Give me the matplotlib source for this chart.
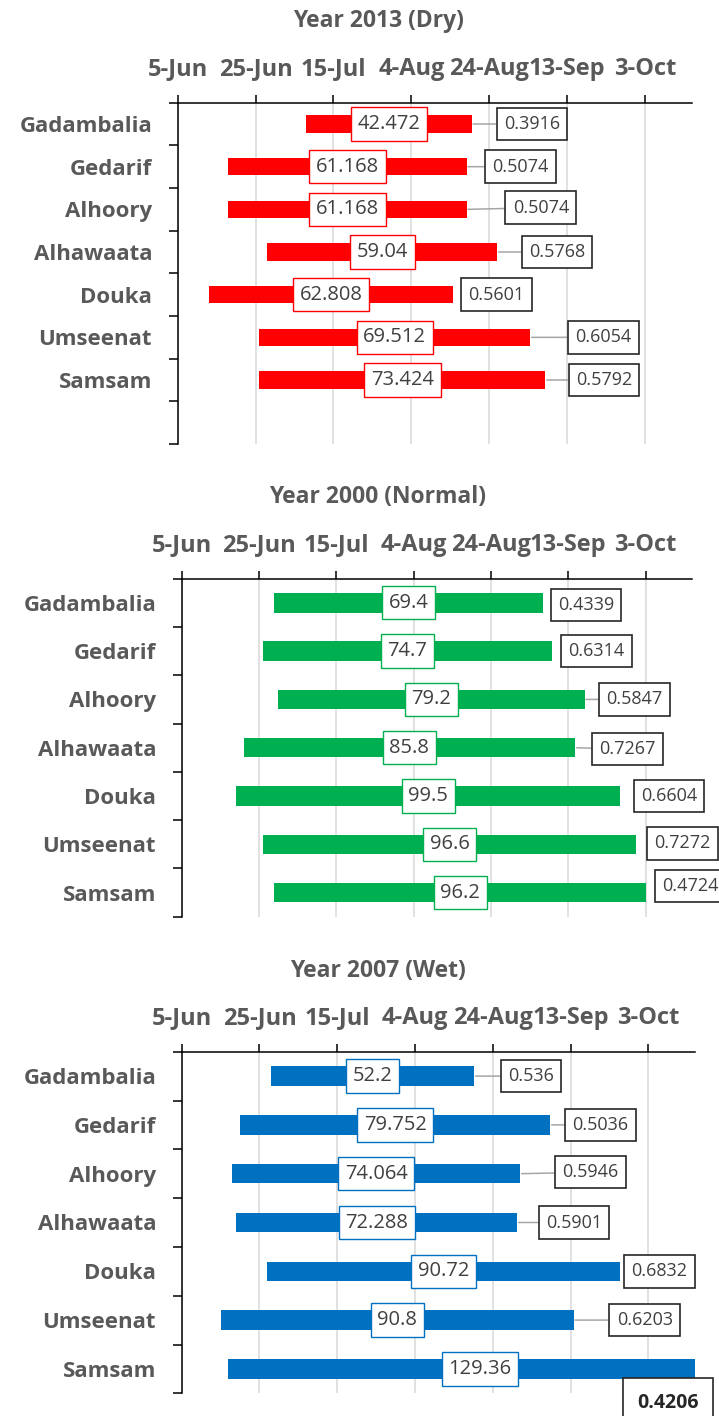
from datetime import datetime

import numpy as np
import matplotlib
matplotlib.use('Agg')
import matplotlib.pyplot as plt
import matplotlib.dates as mdates

plt.rcParams['font.family'] = ['Open Sans', 'DejaVu Sans']

# ---- data -------------------------------------------------------------
sites = ['Gadambalia', 'Gedarif', 'Alhoory', 'Alhawaata', 'Douka', 'Umseenat', 'Samsam']

dry_start = ['8-Jul', '18-Jun', '18-Jun', '28-Jun', '13-Jun', '26-Jun', '26-Jun']
dry_days = [42.472, 61.168, 61.168, 59.04, 62.808, 69.512, 73.424]
dry_ratio = [0.3916, 0.5074, 0.5074, 0.5768, 0.5601, 0.6054, 0.5792]

normal_start = ['29-Jun', '26-Jun', '30-Jun', '21-Jun', '19-Jun', '26-Jun', '29-Jun']
normal_days = [69.4, 74.7, 79.2, 85.8, 99.5, 96.6, 96.2]
normal_ratio = [0.4339, 0.6314, 0.5847, 0.7267, 0.6604, 0.7272, 0.4724]

wet_start = ['28-Jun', '20-Jun', '18-Jun', '19-Jun', '27-Jun', '15-Jun', '17-Jun']
wet_days = [52.2, 79.752, 74.064, 72.288, 90.72, 90.8, 129.36]
wet_ratio = [0.536, 0.5036, 0.5946, 0.5901, 0.6832, 0.6203, 0.4206]

axis_start = '5-Jun'
axis_span = 132      # days shown
tick_step = 20
n_ticks = 7

# ---- label placement (days right of bar end, rows down) ---------------
dry_gap = [6.4, 4.7, 10.0, 6.3, 2.0, 9.7, 6.0]
dry_dy = [0, 0, -0.04, 0, 0, 0, 0]
normal_gap = [2.0, 2.4, 3.8, 4.3, 3.4, 2.8, 2.1]
normal_dy = [0.05, 0, 0, 0.03, 0, -0.02, -0.14]
wet_gap = [6.9, 3.8, 9.0, 5.5, 1.1, 9.2, -28.0]
wet_dy = [0, 0, -0.03, 0, 0, 0, 0.70]

W, H = 719, 1416
TXT = '#595959'
LBL = '#404040'


def to_num(s):
    return mdates.date2num(datetime.strptime(s + '-2013', '%d-%b-%Y'))


def draw_panel(rect, title, title_y, starts, days, ratios, gaps, dys, color, nrows):
    ax = fig.add_axes(rect)
    base = to_num(axis_start)
    left = np.array([to_num(s) for s in starts])
    days = np.array(days)
    rows = np.arange(len(sites))

    ax.barh(rows, days, left=left, height=0.4, color=color, zorder=2)

    px_per_day = rect[2] * W / axis_span
    for r, (l, d, v, g, dy) in enumerate(zip(left, days, ratios, gaps, dys)):
        ax.text(l + d / 2, r, f'{d:g}', ha='center', va='center', fontsize=14.5,
                color=LBL, zorder=4,
                bbox=dict(boxstyle='square,pad=0.33', fc='white', ec=color, lw=1))
        end = l + d
        # label pushed below the plot area is drawn larger and bold
        outside = abs(dy) > 0.5
        fs, pad = (14, 0.75) if outside else (13, 0.4)
        pad_days = pad * fs / 0.72 / px_per_day
        arrow = None
        if g > 3.6:
            arrow = dict(arrowstyle='-', color='#A6A6A6', lw=1.1, shrinkA=0, shrinkB=1)
        ax.annotate(f'{v:g}', xy=(end, r), xytext=(end + g + pad_days, r + dy),
                    ha='left', va='center', fontsize=fs,
                    color='#262626' if outside else LBL,
                    fontweight='bold' if outside else 'normal',
                    bbox=dict(boxstyle=f'square,pad={pad}', fc='white', ec='#262626', lw=1.2),
                    arrowprops=arrow, annotation_clip=False, zorder=5)

    ticks = [base + tick_step * k for k in range(n_ticks)]
    tlabels = []
    for t in ticks:
        d = mdates.num2date(t)
        tlabels.append(f"{d.day}-{d.strftime('%b')}")
    ax.set_xlim(base, base + axis_span)
    ax.set_xticks(ticks, labels=tlabels, fontsize=17, fontweight='bold', color=TXT)
    ax.xaxis.tick_top()
    ax.tick_params(axis='x', direction='out', length=5.8, width=1.1, pad=10)

    ax.set_ylim(nrows - 0.5, -0.5)
    ax.set_yticks(rows, labels=sites, fontsize=16, fontweight='bold', color=TXT)
    ax.set_yticks(np.arange(-0.5, nrows), minor=True)
    ax.tick_params(axis='y', which='major', length=0, pad=18.5)
    ax.tick_params(axis='y', which='minor', direction='out', length=6.5, width=1.1)

    ax.grid(axis='x', color='#D9D9D9', lw=1.1)
    ax.set_axisbelow(True)
    for side in ['bottom', 'right']:
        ax.spines[side].set_visible(False)
    for side in ['top', 'left']:
        ax.spines[side].set_linewidth(1.1)
        ax.spines[side].set_color('black')

    fig.text(378 / W, 1 - title_y / H, title, ha='center', va='baseline',
             fontsize=16.5, fontweight='bold', color=TXT)
    return ax


fig = plt.figure(figsize=(W / 100, H / 100), dpi=100)

draw_panel([177.7 / W, 1 - 444 / H, 514 / W, 341.3 / H], 'Year 2013 (Dry)', 27.3,
           dry_start, dry_days, dry_ratio, dry_gap, dry_dy, '#FF0000', 8)
draw_panel([181.7 / W, 1 - 916.7 / H, 510.3 / W, 338 / H], 'Year 2000 (Normal)', 503.3,
           normal_start, normal_days, normal_ratio, normal_gap, normal_dy, '#00B050', 7)
draw_panel([181.7 / W, 1 - 1393.3 / H, 513.3 / W, 341.6 / H], 'Year 2007 (Wet)', 976.7,
           wet_start, wet_days, wet_ratio, wet_gap, wet_dy, '#0070C0', 7)

fig.savefig('out.png', dpi=100)
